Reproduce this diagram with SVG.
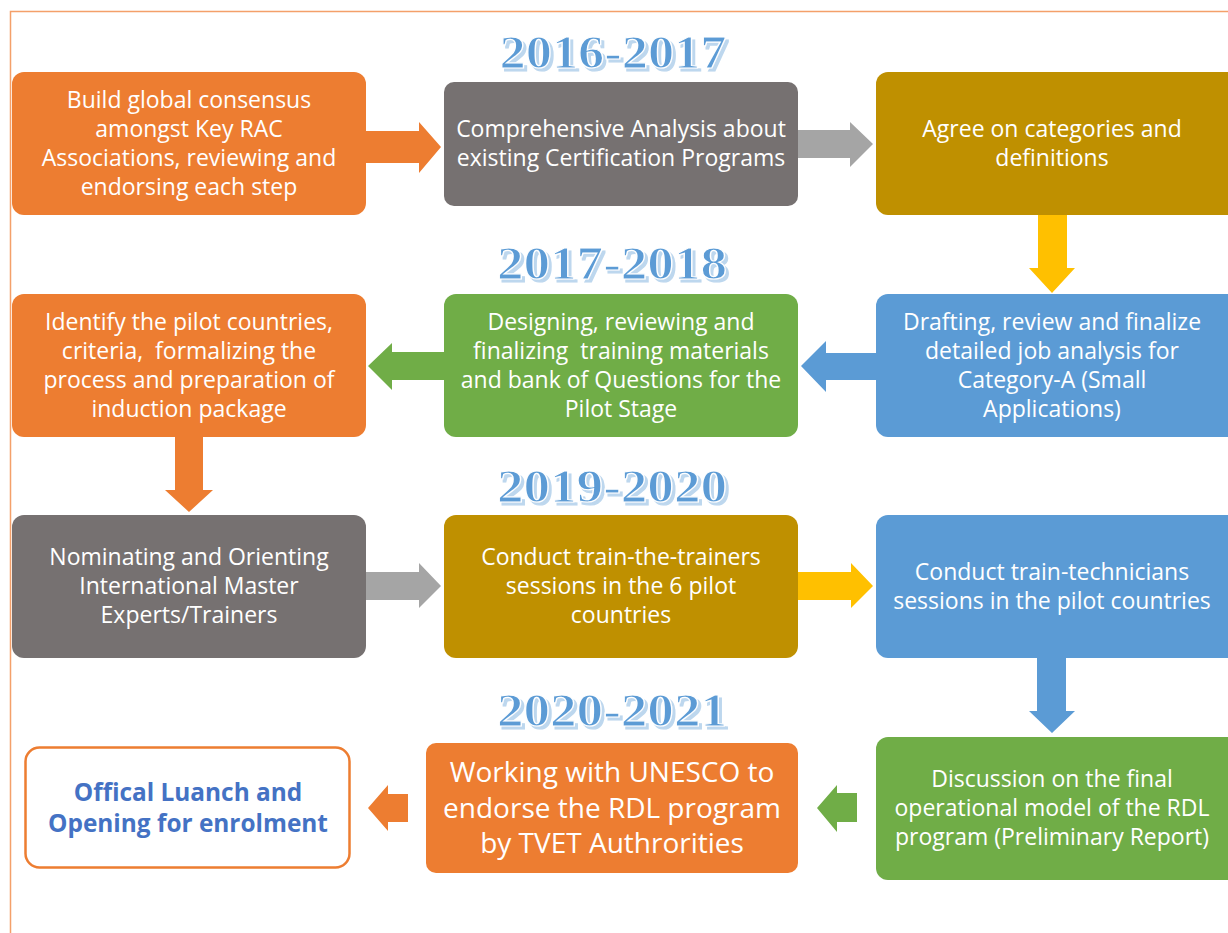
<svg xmlns="http://www.w3.org/2000/svg" width="1228" height="933" viewBox="0 0 1228 933">
  <style>
    .box text { font-family: "Open Sans", "Liberation Sans", sans-serif; font-size: 23px; fill: #ffffff; text-anchor: middle; }
    .box text.big { font-size: 28px; }
    .year text { font-family: "Liberation Serif", "DejaVu Serif", serif; font-weight: bold; font-size: 46px; fill: #5B9BD5; stroke: #ffffff; stroke-width: 1.2; text-anchor: middle; }
    .orange { fill: #ED7D31; }
    .gray { fill: #767171; }
    .gold { fill: #BF9000; }
    .green { fill: #70AD47; }
    .blue { fill: #5B9BD5; }
  </style>
  <defs>
    <!-- soft offset shadow behind the period headings -->
    <filter id="yearShadow" x="-5%" y="-20%" width="115%" height="150%">
      <feOffset in="SourceAlpha" dx="3" dy="3" result="off"/>
      <feFlood flood-color="#BDD7EE"/>
      <feComposite in2="off" operator="in" result="sh"/>
      <feMerge>
        <feMergeNode in="sh"/>
        <feMergeNode in="SourceGraphic"/>
      </feMerge>
    </filter>
  </defs>

  <rect width="1228" height="933" fill="#ffffff"/>
  <!-- page frame -->
  <path d="M10.5,933 V11.5 H1228" fill="none" stroke="#F4A06A" stroke-width="1.5"/>

  <!-- period headings -->
  <g class="year" filter="url(#yearShadow)">
    <text x="613" y="68" textLength="227" lengthAdjust="spacingAndGlyphs">2016-2017</text>
    <text x="612" y="279" textLength="230" lengthAdjust="spacingAndGlyphs">2017-2018</text>
    <text x="612" y="502" textLength="230" lengthAdjust="spacingAndGlyphs">2019-2020</text>
    <text x="612" y="726" textLength="230" lengthAdjust="spacingAndGlyphs">2020-2021</text>
  </g>

  <!-- connectors -->
  <g id="connectors">
    <polygon class="orange" points="366,131 419,131 419,122 441,147 419,173 419,163 366,163"/>
    <polygon fill="#A5A5A5" points="798,130 850,130 850,122 873,144 850,167 850,158 798,158"/>
    <polygon fill="#FFC000" points="1038,215 1067,215 1067,268 1075,268 1052,293 1029,268 1038,268"/>
    <polygon class="blue" points="876,353 826,353 826,341 801,366 826,392 826,380 876,380"/>
    <polygon class="green" points="444,352 392,352 392,343 368,366 392,390 392,380 444,380"/>
    <polygon class="orange" points="175,437 203,437 203,490 213,490 189,512 165,490 175,490"/>
    <polygon fill="#A5A5A5" points="366,572 419,572 419,563 441,586 419,608 419,600 366,600"/>
    <polygon fill="#FFC000" points="798,572 851,572 851,563 873,586 851,608 851,600 798,600"/>
    <polygon class="blue" points="1037,658 1066,658 1066,711 1075,711 1052,733 1029,711 1037,711"/>
    <polygon class="green" points="857,793 837,793 837,785 817,808 837,832 837,822 857,822"/>
    <polygon class="orange" points="408,794 388,794 388,785 368,808 388,831 388,822 408,822"/>
  </g>

  <g id="n1" class="box">
    <rect class="orange" x="12" y="72" width="354" height="143" rx="12"/>
    <text x="189" y="108">Build global consensus</text>
    <text x="189" y="137">amongst Key RAC</text>
    <text x="189" y="166">Associations, reviewing and</text>
    <text x="189" y="195">endorsing each step</text>
  </g>
  <g id="n2" class="box">
    <rect class="gray" x="444" y="82" width="354" height="124" rx="10"/>
    <text x="621" y="137">Comprehensive Analysis about</text>
    <text x="621" y="166">existing Certification Programs</text>
  </g>
  <g id="n3" class="box">
    <rect class="gold" x="876" y="72" width="364" height="143" rx="12"/>
    <text x="1052" y="137">Agree on categories and</text>
    <text x="1052" y="166">definitions</text>
  </g>

  <g id="n4" class="box">
    <rect class="orange" x="12" y="294" width="354" height="143" rx="12"/>
    <text x="189" y="330">Identify the pilot countries,</text>
    <text x="189" y="359" xml:space="preserve">criteria,  formalizing the</text>
    <text x="189" y="388">process and preparation of</text>
    <text x="189" y="417">induction package</text>
  </g>
  <g id="n5" class="box">
    <rect class="green" x="444" y="294" width="354" height="143" rx="12"/>
    <text x="621" y="330">Designing, reviewing and</text>
    <text x="621" y="359" xml:space="preserve">finalizing  training materials</text>
    <text x="621" y="388">and bank of Questions for the</text>
    <text x="621" y="417">Pilot Stage</text>
  </g>
  <g id="n6" class="box">
    <rect class="blue" x="876" y="294" width="364" height="143" rx="12"/>
    <text x="1052" y="330">Drafting, review and finalize</text>
    <text x="1052" y="359">detailed job analysis for</text>
    <text x="1052" y="388">Category-A (Small</text>
    <text x="1052" y="417">Applications)</text>
  </g>

  <g id="n7" class="box">
    <rect class="gray" x="12" y="515" width="354" height="143" rx="12"/>
    <text x="189" y="565">Nominating and Orienting</text>
    <text x="189" y="594">International Master</text>
    <text x="189" y="623">Experts/Trainers</text>
  </g>
  <g id="n8" class="box">
    <rect class="gold" x="444" y="515" width="354" height="143" rx="12"/>
    <text x="621" y="565">Conduct train-the-trainers</text>
    <text x="621" y="594">sessions in the 6 pilot</text>
    <text x="621" y="623">countries</text>
  </g>
  <g id="n9" class="box">
    <rect class="blue" x="876" y="515" width="364" height="143" rx="12"/>
    <text x="1052" y="580">Conduct train-technicians</text>
    <text x="1052" y="609">sessions in the pilot countries</text>
  </g>

  <g id="n10" class="box">
    <rect class="green" x="876" y="737" width="364" height="143" rx="12"/>
    <text x="1052" y="787">Discussion on the final</text>
    <text x="1052" y="816">operational model of the RDL</text>
    <text x="1052" y="845">program (Preliminary Report)</text>
  </g>
  <g id="n11" class="box">
    <rect class="orange" x="426" y="743" width="372" height="130" rx="10"/>
    <text class="big" x="612" y="782">Working with UNESCO to</text>
    <text class="big" x="612" y="818">endorse the RDL program</text>
    <text class="big" x="612" y="853">by TVET Authrorities</text>
  </g>
  <g id="n12">
    <rect x="25.5" y="747.5" width="324" height="120" rx="14" fill="#ffffff" stroke="#ED7D31" stroke-width="2.5"/>
    <text x="188" y="801" font-family="Open Sans, Liberation Sans, sans-serif" font-size="24.4px" font-weight="bold" fill="#4472C4" text-anchor="middle">Offical Luanch and</text>
    <text x="188" y="832" font-family="Open Sans, Liberation Sans, sans-serif" font-size="24.4px" font-weight="bold" fill="#4472C4" text-anchor="middle">Opening for enrolment</text>
  </g>
</svg>
